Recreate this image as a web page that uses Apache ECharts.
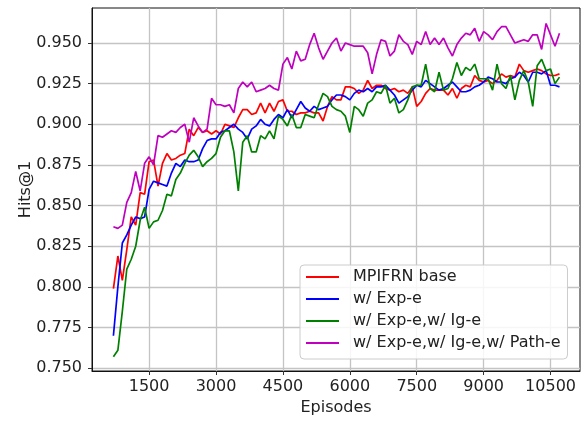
<!DOCTYPE html>
<html>
<head>
<meta charset="utf-8">
<script src="https://cdn.jsdelivr.net/npm/echarts@6/dist/echarts.min.js"></script>
<style>
html,body{margin:0;padding:0;background:#fff;}
#chart{width:582px;height:423px;}
</style>
</head>
<body>
<div id="chart"></div>
<script>
// Episodes: 700 .. 10700 step 100
var episodes = [700,800,900,1000,1100,1200,1300,1400,1500,1600,1700,1800,1900,2000,2100,2200,2300,2400,2500,2600,2700,2800,2900,3000,3100,3200,3300,3400,3500,3600,3700,3800,3900,4000,4100,4200,4300,4400,4500,4600,4700,4800,4900,5000,5100,5200,5300,5400,5500,5600,5700,5800,5900,6000,6100,6200,6300,6400,6500,6600,6700,6800,6900,7000,7100,7200,7300,7400,7500,7600,7700,7800,7900,8000,8100,8200,8300,8400,8500,8600,8700,8800,8900,9000,9100,9200,9300,9400,9500,9600,9700,9800,9900,10000,10100,10200,10300,10400,10500,10600,10700];

var seriesNames = ['MPIFRN base', 'w/ Exp-e', 'w/ Exp-e,w/ Ig-e', 'w/ Exp-e,w/ Ig-e,w/ Path-e'];

var baseVals = [0.799,0.819,0.804,0.823,0.843,0.838,0.858,0.857,0.877,0.878,
0.862,0.876,0.882,0.878,0.879,0.881,0.882,0.897,0.893,0.898,
0.895,0.896,0.894,0.896,0.894,0.900,0.899,0.898,0.904,0.909,
0.909,0.906,0.907,0.913,0.907,0.913,0.908,0.914,0.915,0.908,
0.908,0.906,0.907,0.907,0.908,0.907,0.907,0.902,0.911,0.917,
0.915,0.915,0.923,0.923,0.922,0.919,0.921,0.927,0.922,0.924,
0.924,0.922,0.921,0.922,0.920,0.921,0.919,0.923,0.911,0.914,
0.919,0.922,0.921,0.921,0.921,0.918,0.922,0.916,0.922,0.924,
0.923,0.930,0.927,0.926,0.927,0.925,0.927,0.931,0.929,0.930,
0.929,0.937,0.933,0.932,0.933,0.934,0.933,0.931,0.930,0.930,
0.931];

var expVals = [0.770,0.800,0.827,0.832,0.838,0.843,0.842,0.843,0.860,0.865,
0.864,0.863,0.862,0.870,0.876,0.874,0.878,0.877,0.877,0.878,
0.885,0.890,0.891,0.891,0.895,0.896,0.898,0.900,0.897,0.895,
0.891,0.897,0.899,0.903,0.900,0.899,0.903,0.906,0.904,0.909,
0.904,0.909,0.914,0.910,0.908,0.911,0.909,0.910,0.911,0.915,
0.918,0.918,0.917,0.915,0.919,0.921,0.920,0.922,0.920,0.923,
0.923,0.924,0.921,0.918,0.913,0.915,0.917,0.921,0.924,0.923,
0.927,0.925,0.923,0.921,0.922,0.924,0.926,0.923,0.920,0.920,
0.921,0.923,0.924,0.926,0.929,0.928,0.926,0.926,0.925,0.928,
0.929,0.932,0.930,0.926,0.932,0.932,0.931,0.933,0.924,0.924,
0.923];

var igVals = [0.757,0.761,0.785,0.811,0.817,0.825,0.841,0.849,0.836,0.840,
0.841,0.847,0.857,0.856,0.866,0.870,0.876,0.881,0.884,0.880,
0.874,0.877,0.879,0.882,0.892,0.896,0.896,0.883,0.859,0.889,
0.893,0.883,0.883,0.893,0.891,0.896,0.891,0.905,0.903,0.899,
0.906,0.898,0.898,0.906,0.905,0.904,0.912,0.919,0.917,0.911,
0.909,0.908,0.905,0.895,0.911,0.909,0.905,0.913,0.915,0.920,
0.919,0.924,0.913,0.916,0.907,0.909,0.915,0.923,0.924,0.924,
0.937,0.922,0.920,0.932,0.921,0.922,0.928,0.938,0.930,0.935,
0.933,0.937,0.928,0.928,0.928,0.921,0.937,0.925,0.922,0.930,
0.915,0.927,0.933,0.926,0.911,0.936,0.940,0.933,0.934,0.925,
0.929];

var pathVals = [0.837,0.836,0.838,0.852,0.858,0.871,0.859,0.876,0.880,0.875,
0.893,0.892,0.894,0.896,0.895,0.898,0.900,0.889,0.904,0.899,
0.895,0.897,0.916,0.912,0.912,0.911,0.912,0.907,0.922,0.926,
0.923,0.926,0.920,0.921,0.922,0.924,0.922,0.921,0.937,0.941,
0.934,0.945,0.939,0.940,0.949,0.956,0.947,0.940,0.945,0.950,
0.953,0.945,0.950,0.949,0.948,0.948,0.948,0.944,0.931,0.943,
0.952,0.951,0.942,0.945,0.955,0.951,0.949,0.943,0.951,0.949,
0.957,0.949,0.953,0.949,0.953,0.947,0.942,0.949,0.953,0.956,
0.955,0.959,0.951,0.957,0.955,0.952,0.957,0.960,0.960,0.955,
0.950,0.951,0.952,0.951,0.955,0.955,0.946,0.962,0.955,0.948,
0.956];

var xTicks = [1500,3000,4500,6000,7500,9000,10500];
var yTicks = [0.750,0.775,0.800,0.825,0.850,0.875,0.900,0.925,0.950];

var colors = ['#ff0000','#0000ff','#008000','#bf00bf'];
var allVals = [baseVals, expVals, igVals, pathVals];

function pairs(vals){
  return episodes.map(function(e,i){ return [e, vals[i]]; });
}

var FONT = 'DejaVu Sans';
var chart = echarts.init(document.getElementById('chart'), null, {renderer:'canvas'});

var series = seriesNames.map(function(n,i){
  return {
    name: n,
    type: 'line',
    data: pairs(allVals[i]),
    symbol: 'none',
    showSymbol: false,
    lineStyle: {color: colors[i], width: 1.7},
    itemStyle: {color: colors[i]},
    z: 3 + i,
    animation: false
  };
});

chart.setOption({
  animation: false,
  backgroundColor: '#fff',
  grid: {
    left: 92, right: 2, top: 8, bottom: 52,
    show: true, borderColor: '#111', borderWidth: 1, backgroundColor: 'transparent'
  },
  xAxis: {
    type: 'value',
    min: 220, max: 11160,
    name: 'Episodes',
    nameLocation: 'middle',
    nameGap: 29,
    nameMoveOverlap: false,
    nameTextStyle: {fontFamily: FONT, fontSize: 16, color: '#222'},
    axisLine: {show: true, lineStyle: {color: '#111', width: 1}},
    axisTick: {show: true, inside: false, length: 4, lineStyle: {color: '#333'}, customValues: xTicks},
    axisLabel: {fontFamily: FONT, fontSize: 16, color: '#222', margin: 8, customValues: xTicks,
      formatter: function(v){ return String(Math.round(v)); }},
    splitLine: {show: true, lineStyle: {color: '#c4c4c4', width: 1.3}}
  },
  yAxis: {
    type: 'value',
    min: 0.7483, max: 0.9715,
    name: 'Hits@1',
    nameLocation: 'middle',
    nameGap: 58,
    nameMoveOverlap: false,
    nameRotate: 90,
    nameTextStyle: {fontFamily: FONT, fontSize: 16, color: '#222'},
    axisLine: {show: true, lineStyle: {color: '#111', width: 1}},
    axisTick: {show: true, inside: false, length: 4, lineStyle: {color: '#333'}, customValues: yTicks},
    axisLabel: {fontFamily: FONT, fontSize: 16, color: '#222', margin: 10, customValues: yTicks,
      formatter: function(v){ return v.toFixed(3); }},
    splitLine: {show: true, lineStyle: {color: '#c4c4c4', width: 1.3}}
  },
  legend: {
    show: true,
    orient: 'vertical',
    left: 300, top: 265,
    data: seriesNames.map(function(n){ return {name: n, icon: 'rect'}; }),
    selectedMode: false,
    itemWidth: 33, itemHeight: 2, itemGap: 6,
    padding: [4, 7, 8, 6],
    backgroundColor: 'rgba(255,255,255,0.85)',
    borderColor: '#cccccc', borderWidth: 1, borderRadius: 4,
    textStyle: {fontFamily: FONT, fontSize: 16, color: '#222', padding: [0,0,0,9]}
  },
  series: series
});
</script>
</body>
</html>
